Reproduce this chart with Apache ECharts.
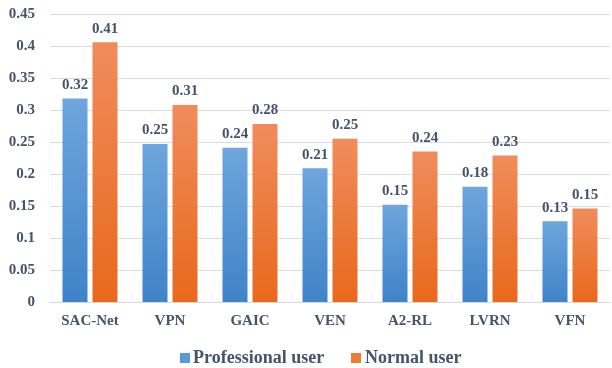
<!DOCTYPE html>
<html><head><meta charset="utf-8">
<script src="https://cdn.jsdelivr.net/npm/echarts@6/dist/echarts.min.js"></script>
<style>html,body{margin:0;padding:0;background:#fff}#c{width:612px;height:368px}</style>
</head><body><div id="c"></div>
<script>
var categories = ['SAC-Net','VPN','GAIC','VEN','A2-RL','LVRN','VFN'];
var professional = [0.318, 0.247, 0.241, 0.209, 0.152, 0.180, 0.126];
var normal = [0.406, 0.308, 0.278, 0.255, 0.235, 0.229, 0.146];
var profLabels = ['0.32','0.25','0.24','0.21','0.15','0.18','0.13'];
var normLabels = ['0.41','0.31','0.28','0.25','0.24','0.23','0.15'];
var yTicks = ['0','0.05','0.1','0.15','0.2','0.25','0.3','0.35','0.4','0.45'];
var seriesNames = ['Professional user','Normal user'];

var font = '"Liberation Serif", serif';
var txt = '#44546a';
function grad(a,b){return new echarts.graphic.LinearGradient(0,0,0,1,[{offset:0,color:a},{offset:1,color:b}]);}
var chart = echarts.init(document.getElementById('c'));
var legFont = 'bold 18px "Liberation Serif", serif';
chart.setOption({
  animation:false,
  textStyle:{fontFamily:font},
  grid:{left:50,right:2,top:14,bottom:66},
  legend:{show:false},
  graphic:[{type:'group',left:180,bottom:1,children:[
    {type:'rect',shape:{x:0,y:-5,width:10,height:10},style:{fill:'#5b9bd5'}},
    {type:'text',x:13,y:0,style:{text:seriesNames[0],font:legFont,fill:txt,verticalAlign:'middle',align:'left'}},
    {type:'rect',shape:{x:171,y:-5,width:10,height:10},style:{fill:'#ed7d31'}},
    {type:'text',x:185,y:0,style:{text:seriesNames[1],font:legFont,fill:txt,verticalAlign:'middle',align:'left'}}
  ]}],
  xAxis:{type:'category',data:categories,
    axisLine:{lineStyle:{color:'#d9d9d9'}},axisTick:{show:false},
    axisLabel:{fontFamily:font,fontWeight:'bold',fontSize:15,color:txt,margin:12}},
  yAxis:{type:'value',min:0,max:0.45,interval:0.05,
    axisLine:{show:false},axisTick:{show:false},
    splitLine:{lineStyle:{color:'#d9dce3'}},
    axisLabel:{fontFamily:font,fontWeight:'bold',fontSize:15,color:txt,margin:15,
      formatter:function(v){return yTicks[Math.round(v/0.05)];}}},
  series:[
    {name:seriesNames[0],type:'bar',data:professional,barWidth:25,barGap:'20%',
     itemStyle:{color:grad('#6ea6dd','#3f83c8')},
     label:{show:true,position:'top',distance:6,fontFamily:font,fontWeight:'bold',fontSize:15,color:txt,
       formatter:function(p){return profLabels[p.dataIndex];}}},
    {name:seriesNames[1],type:'bar',data:normal,barWidth:25,
     itemStyle:{color:grad('#f08c5c','#e8691c')},
     label:{show:true,position:'top',distance:6,fontFamily:font,fontWeight:'bold',fontSize:15,color:txt,
       formatter:function(p){return normLabels[p.dataIndex];}}}
  ]
});
</script></body></html>
